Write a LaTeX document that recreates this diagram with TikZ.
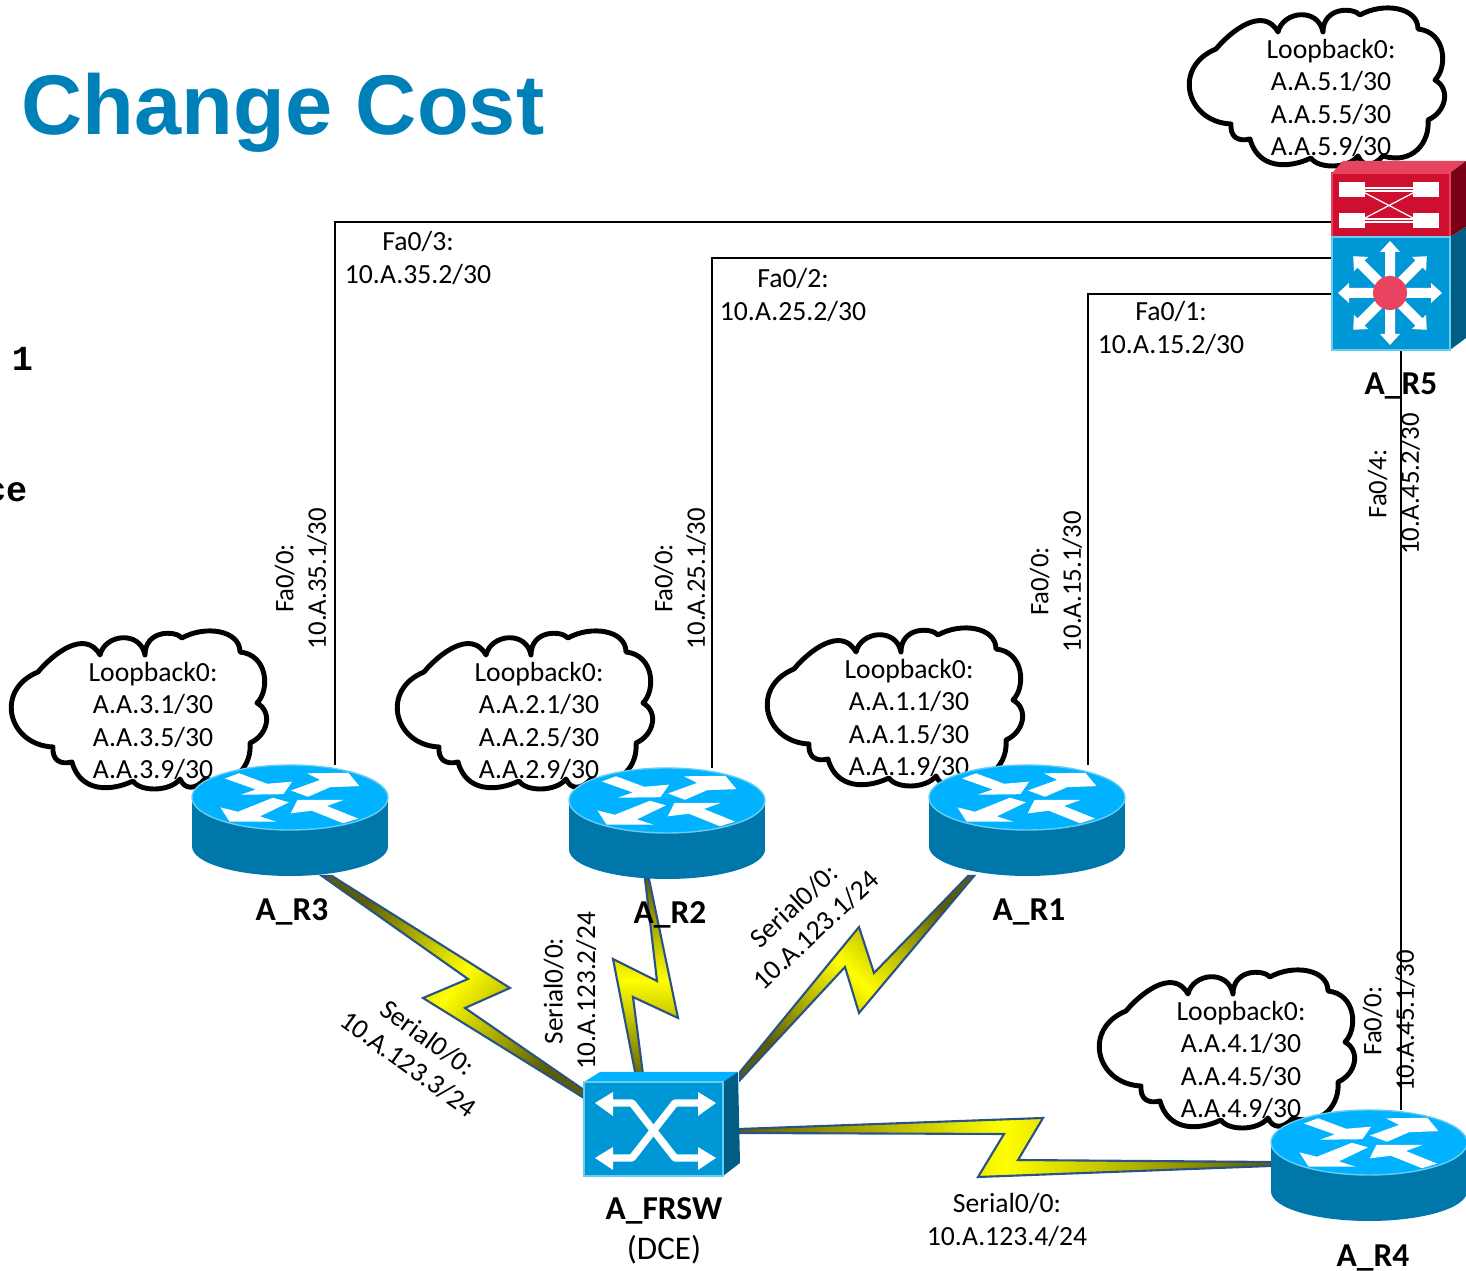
\documentclass[tikz,border=0pt]{standalone}
\usepackage{fontspec}
\setmainfont{Carlito}
\newfontfamily\titlefont{Liberation Sans}
\newfontfamily\stubfont{Liberation Mono}
\usepackage{tikz}
\usetikzlibrary{positioning}
\definecolor{title_blue}{HTML}{0080B9}
\definecolor{rtr_top}{HTML}{00B2FF}
\definecolor{rtr_side}{HTML}{0077AB}
\definecolor{rtr_edge}{HTML}{66CCF0}
\definecolor{sw_front}{HTML}{0097D6}
\definecolor{sw_side}{HTML}{005E85}
\definecolor{red_front}{HTML}{CE0F2F}
\definecolor{red_top}{HTML}{E8445F}
\definecolor{red_side}{HTML}{7A0016}
\definecolor{bolt_edge}{HTML}{2A5285}
\definecolor{bolt_dark}{HTML}{5E5E00}
\tikzstyle{device_box}=[inner sep=0, outer sep=0, rectangle]
\tikzstyle{addr_label}=[inner sep=0, align=center, font=\fontsize{7.87}{9.25}\selectfont]
\tikzstyle{side_label}=[inner sep=0, align=center, rotate=90, font=\fontsize{7.6}{9.25}\selectfont]
\tikzstyle{dev_label}=[inner sep=0, align=center, font=\fontsize{9.5}{11}\selectfont\bfseries]
\tikzstyle{serial_bolt}=[draw=bolt_edge, line width=0.6pt, line join=miter, top color=bolt_dark, bottom color=bolt_dark, middle color=yellow]
\tikzstyle{eth_link}=[draw=black, line width=0.55pt]
\tikzset{
  router_icon/.pic={
    \fill[rtr_side] (-98,-23) rectangle (98,26);
    \fill[rtr_side] (0,26) ellipse [x radius=98, y radius=29.5];
    \fill[rtr_top, draw=rtr_edge, line width=0.4pt] (0,-23) ellipse [x radius=98, y radius=32.5];
    \filldraw[white, line width=0.4pt] (-63,-42) -- (-51,-46.5) -- (-23,-36) -- (0.7,-38) -- (-7,-27) -- (-45,-26.5) -- (-32,-31) -- cycle;
    \filldraw[white, line width=0.4pt] (3,-30) -- (32,-40.5) -- (20,-46.5) -- (58,-47) -- (68,-35) -- (40,-34) -- (18,-24.5) -- cycle;
    \filldraw[white, line width=0.4pt] (-68,-12) -- (-60,0.5) -- (-18,0.5) -- (-32,-4) -- (-3,-18) -- (-17,-22) -- (-52,-8) -- cycle;
    \filldraw[white, line width=0.4pt] (2,-8) -- (8,-20) -- (50,-20) -- (35,-14.5) -- (66,-2) -- (53,2) -- (22,-10.5) -- cycle;
  },
  cloud_line/.pic={
    \draw[black, fill=white, line width=1.4pt, line join=round]
      (38,672) .. controls (52,655) and (85,628) .. (100,655)
      .. controls (105,634) and (140,630) .. (145,655)
      .. controls (145,630) and (175,630) .. (182,638)
      .. controls (205,625) and (240,630) .. (240,652)
      .. controls (268,655) and (270,690) .. (257,703)
      .. controls (273,712) and (268,735) .. (250,743)
      .. controls (252,765) and (235,788) .. (205,779)
      .. controls (195,790) and (185,790) .. (180,779)
      .. controls (170,792) and (140,792) .. (133,781)
      .. controls (110,792) and (80,792) .. (72,762)
      .. controls (60,765) and (52,760) .. (53,747)
      .. controls (8,745) and (-6,690) .. (38,672) -- cycle;
  }
}
\begin{document}
\begin{tikzpicture}[x=0.01cm, y=-0.01cm]
\useasboundingbox (0,0) rectangle (1466,1271);
\node[device_box, minimum width=1.96cm, minimum height=1.11cm] (rtr3) at (290,820.5){};
\node[device_box, minimum width=1.96cm, minimum height=1.11cm] (rtr2) at (667,823.5){};
\node[device_box, minimum width=1.96cm, minimum height=1.11cm] (rtr1) at (1027,820.5){};
\node[device_box, minimum width=1.96cm, minimum height=1.11cm] (rtr4) at (1369,1165.5){};
\node[device_box, minimum width=1.18cm, minimum height=1.77cm] (swt5) at (1391,261.5){};
\node[device_box, minimum width=1.39cm, minimum height=0.94cm] (frsw) at (653.5,1129){};
% serial links
\path[serial_bolt, shading angle=50] ([xshift=.32cm]rtr3.south) -- (468,979) -- (423,998) -- ([yshift=.31cm]frsw.west) -- ([yshift=.39cm]frsw.west) -- (465,1008) -- (510,988) -- ([xshift=.42cm]rtr3.south) -- cycle;
\path[serial_bolt, shading angle=0] ([xshift=-.22cm]rtr2.south) -- (657,981) -- (613,959) -- ([xshift=-.165cm]frsw.north) -- ([xshift=-.095cm]frsw.north) -- (633,997) -- (678,1018) -- ([xshift=-.18cm]rtr2.south) -- cycle;
\path[serial_bolt, shading angle=-45] ([xshift=-.59cm]rtr1.south) -- (874,973) -- (859,927) -- ([xshift=.17cm, yshift=.1cm]frsw.north east) -- ([xshift=.17cm, yshift=.02cm]frsw.north east) -- (845,967) -- (859,1013) -- ([xshift=-.53cm]rtr1.south) -- cycle;
\path[serial_bolt, shading angle=90] ([xshift=.16cm]frsw.east) -- (1043,1118) -- (1018,1160) -- ([yshift=.035cm]rtr4.west) -- ([yshift=-.005cm]rtr4.west) -- (978,1177) -- (1004,1134) -- ([xshift=.16cm, yshift=-.04cm]frsw.east) -- cycle;
% ethernet links
\draw[eth_link] ([xshift=.45cm]rtr3.north) |- ([yshift=.395cm]swt5.west);
\draw[eth_link] ([xshift=.45cm]rtr2.north) |- ([yshift=.035cm]swt5.west);
\draw[eth_link] ([xshift=.61cm]rtr1.north) |- ([yshift=-.325cm]swt5.west);
\draw[eth_link] ([xshift=.1cm]swt5.south) -- ([xshift=.32cm]rtr4.north);
% clouds
\pic at (1178,-623) {cloud_line};
\pic at (0,0) {cloud_line};
\pic at (386,0) {cloud_line};
\pic at (756,-3) {cloud_line};
\pic at (1088,339) {cloud_line};
\node[addr_label] (lo5) at (1331,98){Loopback0:\\A.A.5.1/30\\A.A.5.5/30\\A.A.5.9/30};
\node[addr_label] (lo3) at (153,721){Loopback0:\\A.A.3.1/30\\A.A.3.5/30\\A.A.3.9/30};
\node[addr_label] (lo2) at (539,721){Loopback0:\\A.A.2.1/30\\A.A.2.5/30\\A.A.2.9/30};
\node[addr_label] (lo1) at (909,718){Loopback0:\\A.A.1.1/30\\A.A.1.5/30\\A.A.1.9/30};
\node[addr_label] (lo4) at (1241,1060){Loopback0:\\A.A.4.1/30\\A.A.4.5/30\\A.A.4.9/30};
% routers
\pic at (rtr3) {router_icon};
\pic at (rtr2) {router_icon};
\pic at (rtr1) {router_icon};
\pic at (rtr4) {router_icon};
% A_FRSW
\fill[rtr_top] (584,1082) -- (600,1072) -- (738,1072) -- (723,1082) -- cycle;
\fill[sw_side] (723,1082) -- (738,1072) -- (740,1163) -- (723,1176) -- cycle;
\fill[sw_front] (frsw.south west) rectangle (frsw.north east);
\draw[rtr_edge, line width=0.4pt] (frsw.south west) rectangle (frsw.north east);
\draw[white, line width=2.1pt, line join=round] (613,1103) -- (632,1103) -- (675,1158) -- (698,1158);
\draw[white, line width=2.1pt, line join=round] (698,1103) -- (675,1103) -- (632,1158) -- (613,1158);
\fill[white] (595,1103) -- (613,1092) -- (613,1116) -- cycle;
\fill[white] (716,1103) -- (698,1092) -- (698,1116) -- cycle;
\fill[white] (595,1158) -- (613,1147) -- (613,1170) -- cycle;
\fill[white] (716,1158) -- (698,1147) -- (698,1170) -- cycle;
% A_R5
\fill[red_top] (1332,173) -- (1343,161) -- (1466,161) -- (1450,173) -- cycle;
\fill[red_side] (1450,173) -- (1466,161) -- (1466,227) -- (1450,237) -- cycle;
\fill[sw_side] (1450,237) -- (1466,227) -- (1466,338) -- (1450,350) -- cycle;
\fill[red_front] (1332,173) rectangle (1450,237);
\fill[sw_front] (1332,237) rectangle (1450,350);
\draw[red_top, line width=0.5pt] (1332,173) rectangle (1450,237);
\draw[rtr_edge, line width=0.4pt] (1332,237) rectangle (1450,350);
\fill[white] (1339,182) rectangle (1365,197);
\fill[white] (1413,182) rectangle (1439,197);
\fill[white] (1339,213) rectangle (1365,228);
\fill[white] (1413,213) rectangle (1439,228);
\draw[white, line width=0.35pt] (1365,188) -- (1413,188) (1365,191) -- (1413,191) (1365,219) -- (1413,219) (1365,222) -- (1413,222);
\draw[white, line width=0.35pt] (1365,193) -- (1413,218) (1365,218) -- (1413,193);
\foreach \ang in {0,45,...,315}{
  \fill[white, shift={(1390,293)}, rotate=\ang] (0,-5) -- (41,-5) -- (41,-10) -- (52,0) -- (41,10) -- (41,5) -- (0,5) -- cycle;
}
\fill[red_top] (1390,293) circle [radius=17];
% labels
\node[dev_label] (lblr3) at (292,912){A\_R3};
\node[dev_label] (lblr2) at (670,915){A\_R2};
\node[dev_label] (lblr1) at (1029,912){A\_R1};
\node[dev_label] (lblr4) at (1373,1258){A\_R4};
\node[dev_label] (lblr5) at (1401,386){A\_R5};
\node[dev_label] (lblfr) at (664,1211){A\_FRSW};
\node[addr_label, font=\fontsize{9.4}{11}\selectfont] (lbldce) at (664,1250){(DCE)};
\node[addr_label] (fa3) at (418,258){Fa0/3:\\10.A.35.2/30};
\node[addr_label] (fa2) at (793,295){Fa0/2:\\10.A.25.2/30};
\node[addr_label] (fa1) at (1171,328){Fa0/1:\\10.A.15.2/30};
\node[side_label] (fa30) at (301,578.5){Fa0/0:\\10.A.35.1/30};
\node[side_label] (fa20) at (680,578.5){Fa0/0:\\10.A.25.1/30};
\node[side_label] (fa10) at (1056,581.5){Fa0/0:\\10.A.15.1/30};
\node[side_label] (fa54) at (1394,484){Fa0/4:\\10.A.45.2/30};
\node[side_label] (fa40) at (1389,1021){Fa0/0:\\10.A.45.1/30};
\node[side_label, font=\fontsize{7.75}{9.25}\selectfont] (se2) at (570,991){Serial0/0:\\10.A.123.2/24};
\node[addr_label, rotate=-36] (se3) at (418,1051){Serial0/0:\\10.A.123.3/24};
\node[addr_label, rotate=43] (se1) at (805,918){Serial0/0:\\10.A.123.1/24};
\node[addr_label] (se4) at (1007,1220){Serial0/0:\\10.A.123.4/24};
% title and stray text
\node[anchor=base west, inner sep=0, text=title_blue, font=\fontsize{24.1}{28}\selectfont\titlefont\bfseries] (title) at (21,135){Change Cost};
\node[anchor=base, inner sep=0, font=\fontsize{10}{12}\selectfont\stubfont\bfseries] (stub1) at (22.5,371){1};
\node[anchor=base east, inner sep=0, font=\fontsize{10}{12}\selectfont\stubfont\bfseries] (stub2) at (28,502){ce};
\end{tikzpicture}
\end{document}
